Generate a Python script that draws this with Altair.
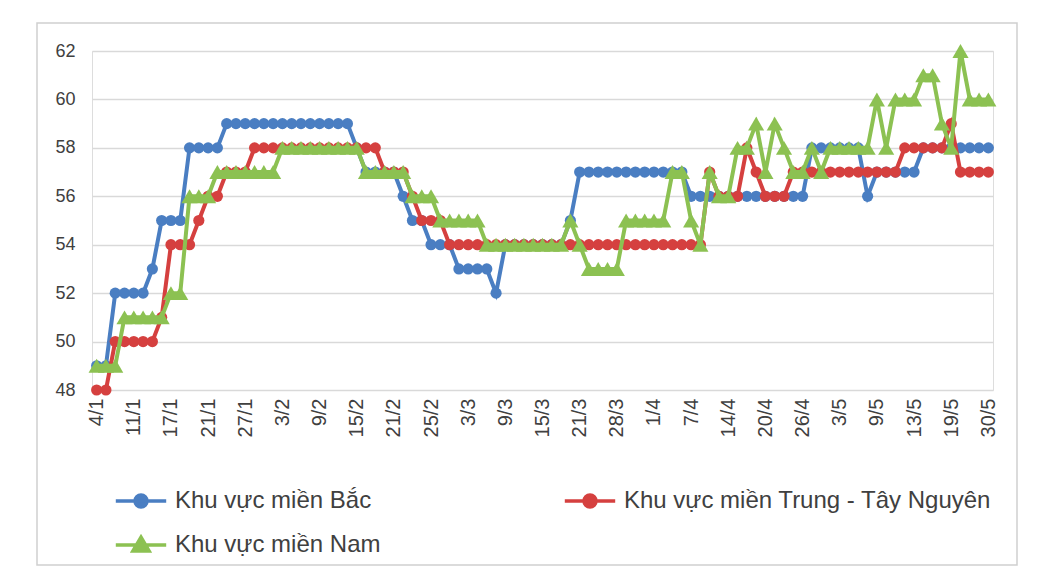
import altair as alt
import pandas as pd

dates = ["4/1", "7/1", "8/1", "9/1", "11/1", "14/1", "15/1", "16/1", "17/1", "18/1",
         "19/1", "20/1", "21/1", "22/1", "24/1", "25/1", "27/1", "28/1", "29/1", "31/1",
         "3/2", "4/2", "5/2", "7/2", "9/2", "11/2", "12/2", "14/2", "15/2", "16/2",
         "18/2", "19/2", "21/2", "22/2", "23/2", "24/2", "25/2", "26/2", "28/2", "1/3",
         "3/3", "5/3", "6/3", "8/3", "9/3", "10/3", "12/3", "13/3", "15/3", "16/3",
         "17/3", "19/3", "21/3", "23/3", "24/3", "26/3", "28/3", "29/3", "30/3", "31/3",
         "1/4", "2/4", "4/4", "5/4", "7/4", "9/4", "11/4", "12/4", "14/4", "15/4",
         "16/4", "18/4", "20/4", "21/4", "23/4", "25/4", "26/4", "27/4", "28/4", "29/4",
         "3/5", "4/5", "5/5", "6/5", "9/5", "10/5", "11/5", "12/5", "13/5", "14/5",
         "16/5", "18/5", "19/5", "20/5", "24/5", "27/5", "30/5"]

bac = [49, 49, 52, 52, 52, 52, 53, 55, 55, 55,
       58, 58, 58, 58, 59, 59, 59, 59, 59, 59,
       59, 59, 59, 59, 59, 59, 59, 59, 58, 57,
       57, 57, 57, 56, 55, 55, 54, 54, 54, 53,
       53, 53, 53, 52, 54, 54, 54, 54, 54, 54,
       54, 55, 57, 57, 57, 57, 57, 57, 57, 57,
       57, 57, 57, 57, 56, 56, 56, 56, 56, 56,
       56, 56, 56, 56, 56, 56, 56, 58, 58, 58,
       58, 58, 58, 56, 57, 57, 57, 57, 57, 58,
       58, 58, 58, 58, 58, 58, 58]

trung = [48, 48, 50, 50, 50, 50, 50, 51, 54, 54,
         54, 55, 56, 56, 57, 57, 57, 58, 58, 58,
         58, 58, 58, 58, 58, 58, 58, 58, 58, 58,
         58, 57, 57, 57, 56, 55, 55, 55, 54, 54,
         54, 54, 54, 54, 54, 54, 54, 54, 54, 54,
         54, 54, 54, 54, 54, 54, 54, 54, 54, 54,
         54, 54, 54, 54, 54, 54, 57, 56, 56, 56,
         58, 57, 56, 56, 56, 57, 57, 57, 57, 57,
         57, 57, 57, 57, 57, 57, 57, 58, 58, 58,
         58, 58, 59, 57, 57, 57, 57]

nam = [49, 49, 49, 51, 51, 51, 51, 51, 52, 52,
       56, 56, 56, 57, 57, 57, 57, 57, 57, 57,
       58, 58, 58, 58, 58, 58, 58, 58, 58, 57,
       57, 57, 57, 57, 56, 56, 56, 55, 55, 55,
       55, 55, 54, 54, 54, 54, 54, 54, 54, 54,
       54, 55, 54, 53, 53, 53, 53, 55, 55, 55,
       55, 55, 57, 57, 55, 54, 57, 56, 56, 58,
       58, 59, 57, 59, 58, 57, 57, 58, 57, 58,
       58, 58, 58, 58, 60, 58, 60, 60, 60, 61,
       61, 59, 58, 62, 60, 60, 60]

series_names = ["Khu vực miền Bắc", "Khu vực miền Trung - Tây Nguyên", "Khu vực miền Nam"]
colors = ["#4A7EC2", "#D5403F", "#8CC152"]
shapes = ["circle", "circle", "triangle-up"]
sizes = [125, 125, 260]
tick_labels = dates[::4]
y_ticks = [48, 50, 52, 54, 56, 58, 60, 62]

rows = []
for sid, (name, vals) in enumerate(zip(series_names, [bac, trung, nam])):
    for d, v in zip(dates, vals):
        rows.append({"date": d, "value": v, "series": name, "sid": sid})
df = pd.DataFrame(rows)

FONT = "Liberation Sans"
TXT = "#404040"

x_enc = alt.X("date:O", sort=dates, title=None,
              scale=alt.Scale(type="point", padding=0.5),
              axis=alt.Axis(values=tick_labels, labelAngle=-90, labelAlign="right",
                            labelBaseline="middle", labelFontSize=20, labelFont=FONT,
                            labelColor=TXT, labelPadding=8, ticks=False, domain=False,
                            grid=False, labelOverlap=False))
y_enc = alt.Y("value:Q", title=None,
              scale=alt.Scale(domain=[48, 62], nice=False, zero=False),
              axis=alt.Axis(values=y_ticks, labelFontSize=18, labelFont=FONT,
                            labelColor=TXT, labelPadding=17, ticks=False, domain=False,
                            grid=True, gridColor="#D9D9D9", gridWidth=1.5))

layers = []
frame = alt.Chart(pd.DataFrame({"k": [0]})).mark_rect(
    fillOpacity=0, stroke="#D0D0D0", strokeWidth=1.5).encode(
    x=alt.value(-55), x2=alt.value(925), y=alt.value(-28), y2=alt.value(514))
layers.append(frame)

for name, color, shape, size in zip(series_names, colors, shapes, sizes):
    sub = alt.Chart(df).transform_filter(alt.datum.series == name)
    layers.append(sub.mark_line(color=color, strokeWidth=4).encode(x=x_enc, y=y_enc))
    layers.append(sub.mark_point(filled=True, color=color, shape=shape, size=size,
                                 opacity=1).encode(x=x_enc, y=y_enc))

# legend built from the series list (index -> name)
name_expr = "[" + ",".join("'" + n + "'" for n in series_names) + "][datum.value]"
circ_path = "M-4.2,0H4.2M-1,0A1,1 0 1,0 1,0A1,1 0 1,0 -1,0Z"
tri_path = "M-4.2,0H4.2M0,-1.3L1.35,1L-1.35,1Z"
sid_domain = list(range(len(series_names)))
leg_kwargs = dict(orient="none", direction="horizontal", legendX=37, legendY=438,
                  columns=2, columnPadding=176,
                  rowPadding=16, labelFontSize=24, labelFont=FONT, labelColor=TXT,
                  symbolSize=144, symbolStrokeWidth=3.5, labelOffset=22, title=None,
                  symbolOpacity=1, labelLimit=0, labelExpr=name_expr)
legend_layer = alt.Chart(df).transform_filter("false").mark_point(
    filled=True, opacity=1).encode(
    fill=alt.Fill("sid:O", scale=alt.Scale(domain=sid_domain, range=colors),
                  legend=alt.Legend(**leg_kwargs)),
    stroke=alt.Stroke("sid:O", scale=alt.Scale(domain=sid_domain, range=colors),
                      legend=alt.Legend(**leg_kwargs)),
    shape=alt.Shape("sid:O", scale=alt.Scale(domain=sid_domain,
                                             range=[circ_path, circ_path, tri_path]),
                    legend=alt.Legend(**leg_kwargs)),
)
layers.append(legend_layer)

chart = alt.layer(*layers).properties(
    width=901, height=339,
    padding={"left": 84, "top": 43, "right": 48, "bottom": 189},
    autosize=alt.AutoSizeParams(type="none"),
).configure_view(stroke=None).configure(background="white")

chart.save("out.html", embed_options={"renderer": "svg", "actions": False})
